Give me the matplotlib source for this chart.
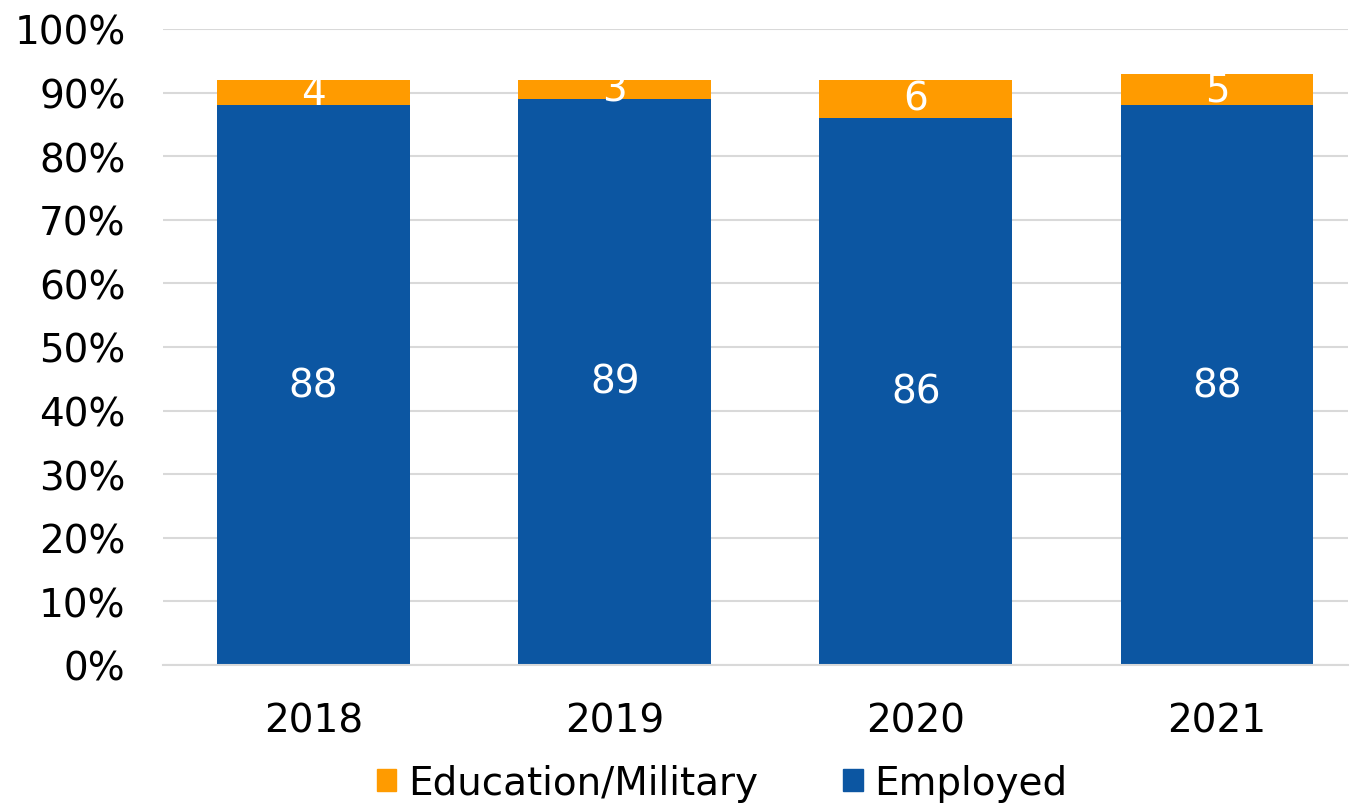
import numpy as np
import matplotlib
matplotlib.use("Agg")
import matplotlib.pyplot as plt
from matplotlib.patches import Patch

# data
years = ["2018", "2019", "2020", "2021"]
employed = [88, 89, 86, 88]
edu_military = [4, 3, 6, 5]

blue = "#0C56A2"
orange = "#FF9B00"

plt.rcParams["font.family"] = ["DejaVu Sans"]

fig = plt.figure(figsize=(13.5, 8.04), dpi=100)
ax = fig.add_axes([163 / 1350, 138 / 804, (1348 - 163) / 1350, 636 / 804])

x = np.arange(len(years))
w = 0.64
ax.bar(x, employed, width=w, color=blue, zorder=2)
ax.bar(x, edu_military, width=w, bottom=employed, color=orange, zorder=2)

for i in range(len(years)):
    ax.text(x[i], employed[i] / 2, str(employed[i]), ha="center", va="center",
            color="white", fontsize=28)
    ax.text(x[i], employed[i] + edu_military[i] / 2, str(edu_military[i]),
            ha="center", va="center", color="white", fontsize=28)

ax.set_ylim(0, 100)
ax.set_xlim(-0.5, 3.435)
ax.set_yticks(range(0, 101, 10))
ax.set_yticklabels([f"{v}%" for v in range(0, 101, 10)])
ax.set_xticks(x)
ax.set_xticklabels(years)
ax.tick_params(axis="both", length=0, labelsize=28)
ax.tick_params(axis="y", pad=27)
ax.tick_params(axis="x", pad=26)
ax.grid(axis="y", color="#d9d9d9", linewidth=1.5, zorder=0)
for s in ["top", "right", "left"]:
    ax.spines[s].set_visible(False)
ax.spines["bottom"].set_color("#d9d9d9")
ax.spines["bottom"].set_linewidth(1.5)

handles = [Patch(color=orange, label="Education/Military"),
           Patch(color=blue, label="Employed")]
fig.legend(handles=handles, loc="lower center", bbox_to_anchor=(0.535, -0.042),
           ncol=2, frameon=False, fontsize=28, handlelength=0.5, handleheight=0.5,
           handletextpad=0.3, columnspacing=2.2)

fig.savefig("out.png", dpi=100)
